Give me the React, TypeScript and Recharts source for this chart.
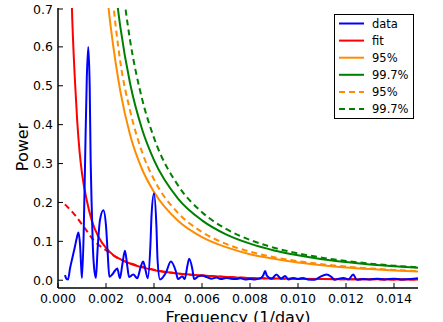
import { Line, LineChart, XAxis, YAxis } from "recharts";

// Periodogram with red-noise fit and confidence levels, matplotlib-classic look.
const freqData = [
  0.00029, 0.00035, 0.00042, 0.0005, 0.0006, 0.0007, 0.00078, 0.00085, 0.00092, 0.00097,
  0.001, 0.00107, 0.00113, 0.0012, 0.00126, 0.00132, 0.00136, 0.0014, 0.00145, 0.0015,
  0.00158, 0.00165, 0.00175, 0.00189, 0.002, 0.00207, 0.00214, 0.00225, 0.00238, 0.00247,
  0.00258, 0.00268, 0.00279, 0.00288, 0.00296, 0.00306, 0.00314, 0.0033, 0.00345, 0.00355,
  0.00365, 0.00374, 0.00385, 0.0039, 0.004, 0.0041, 0.00415, 0.00425, 0.0045, 0.0047,
  0.0049, 0.005, 0.00518, 0.00528, 0.0054, 0.00547, 0.0056, 0.00567, 0.00585, 0.006,
  0.0062, 0.0064, 0.0066, 0.0068, 0.007, 0.0072, 0.0074, 0.0076, 0.0078, 0.008,
  0.0082, 0.0084, 0.00855, 0.00863, 0.0087, 0.0089, 0.0091, 0.0093, 0.00946, 0.0096,
  0.0098, 0.01, 0.0102, 0.0104, 0.0107, 0.0109, 0.0112, 0.0114, 0.01154, 0.0117,
  0.0119, 0.0121, 0.0123, 0.01245, 0.0127, 0.013, 0.0133, 0.0136, 0.014, 0.0143,
  0.0147, 0.015,
];
const powerData = [
  0.013, 0.004, 0.002, 0.03, 0.058, 0.085, 0.108, 0.123, 0.09, 0.03,
  0.006, 0.12, 0.31, 0.52, 0.6, 0.5, 0.309, 0.2, 0.09, 0.035,
  0.006, 0.08, 0.155, 0.18, 0.14, 0.07, 0.009, 0.014, 0.025, 0.03,
  0.005, 0.04, 0.076, 0.04, 0.008, 0.012, 0.015, 0.005, 0.035, 0.048,
  0.025, 0.005, 0.09, 0.17, 0.223, 0.14, 0.05, 0.002, 0.02, 0.048,
  0.025, 0.003, 0.01, 0.003, 0.04, 0.055, 0.028, 0.003, 0.01, 0.012,
  0.008, 0.004, 0.007, 0.003, 0.006, 0.004, 0.003, 0.005, 0.002, 0.003,
  0.002, 0.004, 0.012, 0.024, 0.012, 0.004, 0.015, 0.004, 0.011, 0.002,
  0.006, 0.003, 0.006, 0.002, 0.001, 0.008, 0.015, 0.008, 0.001, 0.004,
  0.006, 0.002, 0.015, 0.001, 0.003, 0.002, 0.004, 0.002, 0.004, 0.002,
  0.003, 0.005,
];

const freqFit = [
  0.0005, 0.00058, 0.0007, 0.0008, 0.0009, 0.001, 0.0012, 0.0014, 0.0017, 0.002,
  0.0023, 0.0027, 0.003, 0.0035, 0.004, 0.0045, 0.005, 0.006, 0.007, 0.008,
  0.009, 0.01, 0.011, 0.012, 0.013, 0.014, 0.015,
];
const powerFit = [
  0.9, 0.7, 0.52, 0.41, 0.33, 0.275, 0.205, 0.155, 0.11, 0.083,
  0.065, 0.051, 0.043, 0.033, 0.026, 0.021, 0.017, 0.012, 0.0085, 0.0058,
  0.0045, 0.0036, 0.003, 0.0026, 0.0023, 0.002, 0.0018,
];

const freqFitAlt = [
  0.00029, 0.0007, 0.0011, 0.0015, 0.002, 0.0024, 0.0028, 0.0035, 0.0043, 0.005,
  0.006, 0.007, 0.008, 0.009, 0.01, 0.011, 0.012, 0.013, 0.014, 0.015,
];
const powerFitAlt = [
  0.195, 0.168, 0.135, 0.102, 0.077, 0.06, 0.048, 0.035, 0.023, 0.017,
  0.012, 0.0085, 0.0058, 0.0045, 0.0036, 0.003, 0.0026, 0.0023, 0.002, 0.0018,
];

const freqConf = [
  0.002, 0.0022, 0.0024, 0.0026, 0.003, 0.0035, 0.004, 0.005, 0.006, 0.007,
  0.008, 0.009, 0.01, 0.011, 0.012, 0.013, 0.014, 0.015,
];
const conf95 = [
  0.76, 0.65, 0.56, 0.485, 0.375, 0.286, 0.227, 0.153, 0.111, 0.085,
  0.067, 0.055, 0.0456, 0.0386, 0.033, 0.0288, 0.0253, 0.0224,
];
const conf997 = [
  0.88, 0.83, 0.744, 0.65, 0.507, 0.389, 0.309, 0.21, 0.154, 0.118,
  0.094, 0.0766, 0.064, 0.054, 0.0467, 0.0407, 0.0358, 0.0318,
];
const conf95Alt = [
  0.82, 0.769, 0.655, 0.56, 0.437, 0.33, 0.259, 0.173, 0.124, 0.0935,
  0.0734, 0.0592, 0.0489, 0.0411, 0.0351, 0.0303, 0.0265, 0.0235,
];
const conf997Alt = [
  1.0, 0.95, 0.9, 0.8, 0.618, 0.467, 0.366, 0.244, 0.175, 0.132,
  0.1037, 0.0837, 0.069, 0.058, 0.0496, 0.0428, 0.0374, 0.033,
];

const xTicks = [0, 0.002, 0.004, 0.006, 0.008, 0.01, 0.012, 0.014];
const yTicks = [0, 0.1, 0.2, 0.3, 0.4, 0.5, 0.6, 0.7];

const pts = (fs: number[], ps: number[]) => fs.map((f, i) => ({ f, p: ps[i] }));

const series = [
  { name: "data", data: pts(freqData, powerData), color: "#0000ff", dash: undefined },
  { name: "fit", data: pts(freqFit, powerFit), color: "#ff0000", dash: undefined },
  { name: "95%", data: pts(freqConf, conf95), color: "#ff8c00", dash: undefined },
  { name: "99.7%", data: pts(freqConf, conf997), color: "#008000", dash: undefined },
  { name: "95%", data: pts(freqConf, conf95Alt), color: "#ff8c00", dash: "6 4" },
  { name: "99.7%", data: pts(freqConf, conf997Alt), color: "#008000", dash: "6 4" },
];
const fitAlt = pts(freqFitAlt, powerFitAlt);

const FONT = "DejaVu Sans, sans-serif";
const TICK = 5;
const LW = 2;

const BottomTick = ({ x, y, payload }: any) => (
  <g>
    <line x1={x} x2={x} y1={y} y2={y - TICK} stroke="#000" />
    <text x={x} y={y + 15} textAnchor="middle" fontSize={12.5} fontFamily={FONT} fill="#000">
      {payload.value.toFixed(3)}
    </text>
  </g>
);
const LeftTick = ({ x, y, payload }: any) => (
  <g>
    <line x1={x} x2={x + TICK} y1={y} y2={y} stroke="#000" />
    <text x={x - 5} y={y + 4.5} textAnchor="end" fontSize={12.5} fontFamily={FONT} fill="#000">
      {payload.value.toFixed(1)}
    </text>
  </g>
);
const TopTick = ({ x, y }: any) => <line x1={x} x2={x} y1={y} y2={y + TICK} stroke="#000" />;
const RightTick = ({ x, y }: any) => <line x1={x} x2={x - TICK} y1={y} y2={y} stroke="#000" />;

function LegendBox() {
  return (
    <svg
      width={80}
      height={105}
      style={{ position: "absolute", left: 334, top: 14, overflow: "visible" }}
    >
      <rect x={0.5} y={0.5} width={79} height={104} fill="#fff" stroke="#000" strokeWidth={1} />
      {series.map((s, i) => (
        <g key={i} transform={`translate(0, ${9.5 + i * 17.1})`}>
          <line x1={5} x2={30} y1={0} y2={0} stroke={s.color} strokeWidth={LW} strokeDasharray={s.dash} />
          <text x={38} y={4} fontSize={11.5} fontFamily={FONT} fill="#000">
            {s.name}
          </text>
        </g>
      ))}
    </svg>
  );
}

export default function App() {
  return (
    <div style={{ position: "absolute", left: 0, top: 0, width: 443, height: 322, background: "#fff" }}>
      <LineChart width={443} height={322} margin={{ top: 8, right: 25, left: 0, bottom: 0 }}>
        <XAxis
          xAxisId="b"
          dataKey="f"
          type="number"
          domain={[0, 0.015]}
          ticks={xTicks}
          allowDataOverflow
          height={34}
          tickSize={0}
          tickMargin={0}
          tick={<BottomTick />}
          axisLine={{ stroke: "#000", strokeWidth: 1.5 }}
          tickLine={false}
          label={{ value: "Frequency (1/day)", position: "insideBottom", offset: -1, fontSize: 16, fontFamily: FONT, fill: "#000" }}
        />
        <XAxis
          xAxisId="t"
          orientation="top"
          type="number"
          domain={[0, 0.015]}
          ticks={xTicks}
          height={0}
          tickSize={0}
          tick={<TopTick />}
          axisLine={{ stroke: "#000", strokeWidth: 1.5 }}
          tickLine={false}
        />
        <YAxis
          yAxisId="l"
          type="number"
          domain={[-0.02, 0.7]}
          ticks={yTicks}
          allowDataOverflow
          width={58}
          tickSize={0}
          tickMargin={0}
          tick={<LeftTick />}
          axisLine={{ stroke: "#000", strokeWidth: 1.5 }}
          tickLine={false}
          label={{
            content: () => (
              <text
                transform="translate(28, 147) rotate(-90)"
                textAnchor="middle"
                fontSize={16}
                fontFamily={FONT}
                fill="#000"
              >
                Power
              </text>
            ),
          }}
        />
        <YAxis
          yAxisId="r"
          orientation="right"
          type="number"
          domain={[-0.02, 0.7]}
          ticks={yTicks}
          width={0}
          tickSize={0}
          tick={<RightTick />}
          axisLine={{ stroke: "#000", strokeWidth: 1.5 }}
          tickLine={false}
        />
        <Line
          xAxisId="b"
          yAxisId="l"
          data={fitAlt}
          dataKey="p"
          type="monotone"
          stroke="#ff0000"
          strokeWidth={LW}
          strokeDasharray="6 4"
          dot={false}
          isAnimationActive={false}
        />
        {series
          .slice()
          .reverse()
          .map((s, i) => (
            <Line
              key={i}
              xAxisId="b"
              yAxisId="l"
              data={s.data}
              dataKey="p"
              type="monotone"
              stroke={s.color}
              strokeWidth={LW}
              strokeDasharray={s.dash}
              dot={false}
              isAnimationActive={false}
            />
          ))}
      </LineChart>
      <LegendBox />
    </div>
  );
}
